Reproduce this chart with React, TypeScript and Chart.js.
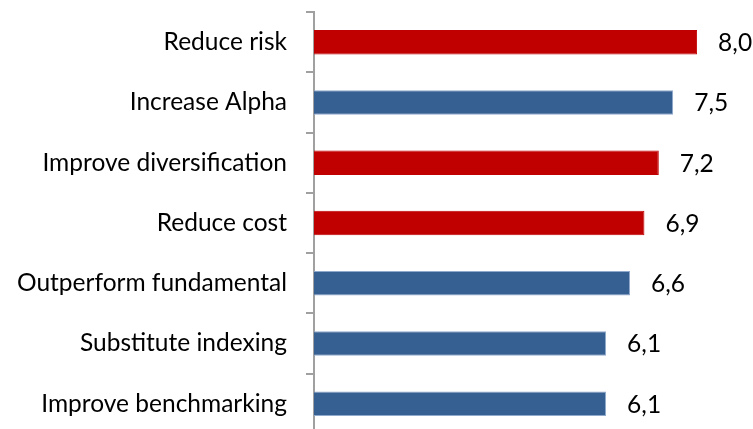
import { useEffect, useRef } from "react";
import { Chart, registerables } from "chart.js";

Chart.register(...registerables);

// Survey answers, scored per reason for using the strategy
const categories = [
  "Reduce risk",
  "Increase Alpha",
  "Improve diversification",
  "Reduce cost",
  "Outperform fundamental",
  "Substitute indexing",
  "Improve benchmarking",
];
const scores = [8.0, 7.5, 7.2, 6.9, 6.6, 6.1, 6.1];

const RED = "#C00000";
const BLUE = "#376092";
const barColors = [RED, BLUE, RED, RED, BLUE, BLUE, BLUE];
const barBorders = barColors.map((c) => (c === BLUE ? "#8FA9CC" : RED));

const FONT = "Lato, 'Open Sans', sans-serif";
const FONT_SIZE = 24.5;
const AXIS_GREY = "#A0A0A0";

const formatScore = (v: number) => v.toFixed(1).replace(".", ",");

// Writes each bar's score just past its end
const valueLabels = {
  id: "valueLabels",
  afterDatasetsDraw(chart: any) {
    const { ctx } = chart;
    const meta = chart.getDatasetMeta(0);
    const data = chart.data.datasets[0].data as number[];
    const xScale = chart.scales.x;
    ctx.save();
    ctx.font = `${FONT_SIZE}px ${FONT}`;
    ctx.fillStyle = "#000000";
    ctx.textAlign = "left";
    ctx.textBaseline = "middle";
    meta.data.forEach((bar: any, i: number) => {
      const v = data[i];
      ctx.fillText(formatScore(v), xScale.getPixelForValue(v) + 21, bar.y + 1);
    });
    ctx.restore();
  },
};

export default function App() {
  const canvasRef = useRef<HTMLCanvasElement | null>(null);

  useEffect(() => {
    const canvas = canvasRef.current;
    if (!canvas) return;
    const chart = new Chart(canvas, {
      type: "bar",
      data: {
        labels: categories,
        datasets: [
          {
            data: scores,
            backgroundColor: barColors,
            borderColor: barBorders,
            borderWidth: 1,
            borderSkipped: "start",
            barPercentage: 0.406,
            categoryPercentage: 1,
          },
        ],
      },
      options: {
        indexAxis: "y",
        responsive: false,
        animation: false,
        devicePixelRatio: 1,
        layout: { padding: { top: 12, bottom: 6, left: 0, right: 8 } },
        plugins: {
          legend: { display: false },
          tooltip: { enabled: false },
        },
        scales: {
          x: {
            display: false,
            min: 0,
            max: 9,
          },
          y: {
            position: "left",
            grid: {
              offset: true,
              drawOnChartArea: false,
              drawTicks: true,
              tickLength: 8,
              color: AXIS_GREY,
              lineWidth: 2,
            },
            border: { display: true, color: AXIS_GREY, width: 2 },
            ticks: {
              color: "#000000",
              padding: 19,
              font: { family: FONT, size: FONT_SIZE },
            },
            afterFit(scale: any) {
              scale.width = 314;
              scale.paddingTop = 0;
              scale.paddingBottom = 0;
            },
          },
        },
      },
      plugins: [valueLabels],
    });
    return () => chart.destroy();
  }, []);

  return (
    <div
      style={{
        position: "fixed",
        left: 0,
        top: 0,
        width: 753,
        height: 429,
        overflow: "hidden",
        background: "#ffffff",
      }}
    >
      <canvas
        ref={canvasRef}
        width={753}
        height={440}
        style={{ width: 753, height: 440, display: "block" }}
      />
    </div>
  );
}
